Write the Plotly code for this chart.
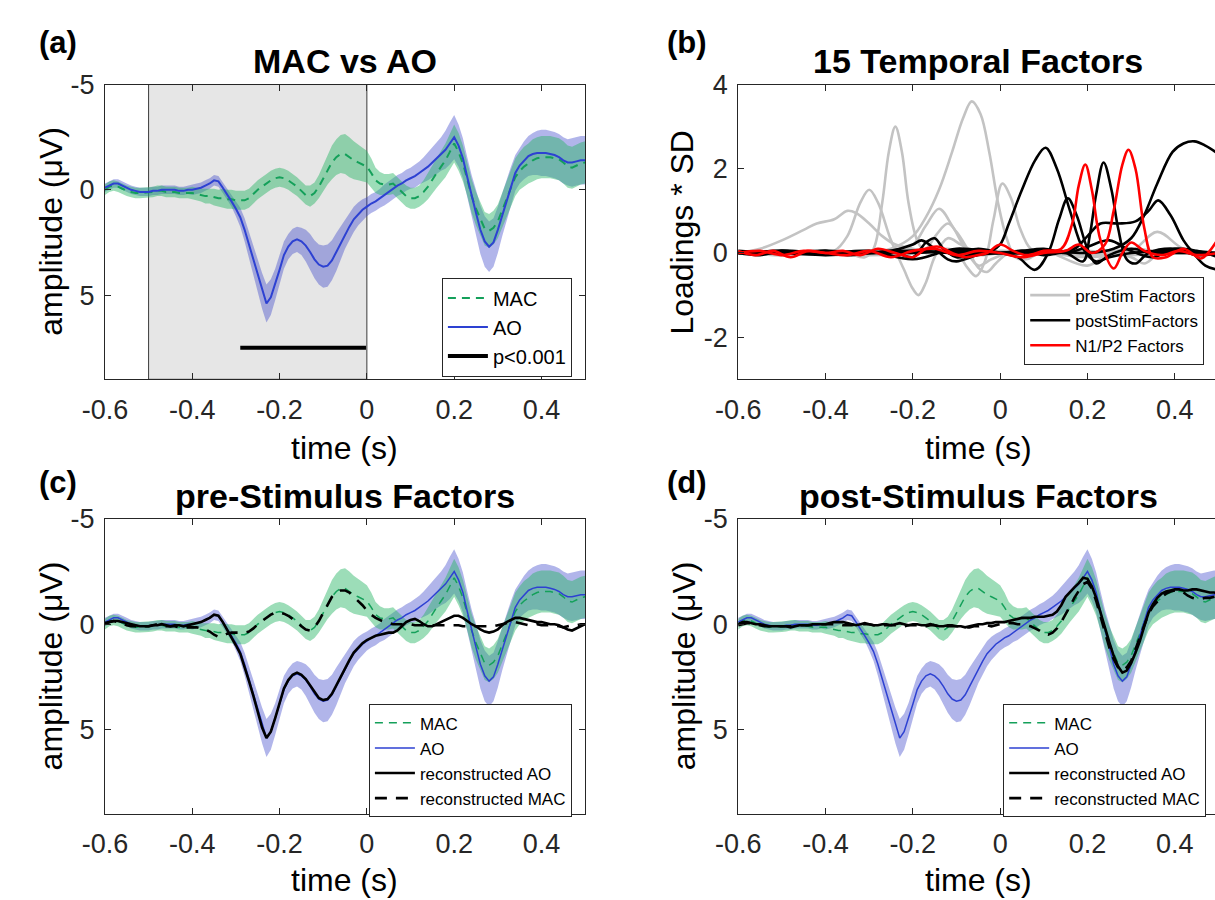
import numpy as np
import plotly.graph_objects as go

W, H = 1215, 900
FONT = "Liberation Sans, Arial, sans-serif"
TXT = "#262626"

# ---------------- data -----------------
t_start, t_step, n_t = -0.60, 0.01, 111
time = np.round(t_start + t_step * np.arange(n_t), 2)

AO = [-0.1,-0.2,-0.3,-0.3,-0.2,-0.1,0.0,0.05,0.1,0.1,
      0.1,0.05,0.05,0.0,0.0,0.0,0.0,0.05,0.05,0.0,
      0.0,-0.05,-0.1,-0.2,-0.3,-0.45,-0.4,-0.1,0.2,0.55,
      0.9,1.3,1.9,2.6,3.3,4.1,4.8,5.4,5.1,4.5,
      3.8,3.1,2.7,2.45,2.35,2.45,2.65,2.95,3.3,3.55,
      3.65,3.6,3.35,2.95,2.55,2.1,1.75,1.4,1.15,0.95,
      0.8,0.65,0.55,0.4,0.25,0.1,-0.05,-0.2,-0.3,-0.45,
      -0.55,-0.65,-0.8,-0.95,-1.1,-1.3,-1.5,-1.7,-1.9,-2.2,
      -2.5,-2.1,-1.5,-0.6,0.3,1.1,1.9,2.45,2.7,2.5,
      1.9,1.2,0.5,-0.2,-0.8,-1.15,-1.4,-1.6,-1.7,-1.75,
      -1.75,-1.75,-1.7,-1.65,-1.55,-1.4,-1.3,-1.3,-1.35,-1.4,-1.4]

AO_sd = [0.2]*20 + [0.25]*10 + \
    [0.35,0.45,0.55,0.65,0.75, 0.8,0.85,0.9,0.85,0.75,
     0.7,0.65,0.6,0.6,0.6, 0.65,0.75,0.85,0.9,0.95,
     1.0,1.0,0.95,0.9,0.8, 0.7,0.65,0.6,0.55,0.5,
     0.45,0.45,0.45,0.45,0.5,0.5,0.5,0.5,0.5,0.5,
     0.5,0.55,0.55,0.6,0.65,0.7,0.75,0.8,0.9,1.0,
     1.05,1.0,0.95,0.95,1.0,1.1,1.15,1.2,1.2,1.15,
     1.1,1.0,0.95,0.9,0.85,0.85,0.9,0.95,1.0,1.05,
     1.1,1.1,1.1,1.1,1.1,1.1,1.1,1.15,1.15,1.15,1.15]

MAC = [0.0,-0.15,-0.2,-0.15,-0.05,0.05,0.1,0.15,0.15,0.15,
       0.12,0.1,0.05,0.05,0.1,0.1,0.1,0.15,0.15,0.15,
       0.15,0.2,0.25,0.3,0.3,0.35,0.4,0.4,0.45,0.45,
       0.5,0.5,0.5,0.4,0.2,0.0,-0.15,-0.3,-0.45,-0.55,
       -0.6,-0.55,-0.45,-0.3,-0.15,0.05,0.25,0.3,0.15,-0.15,
       -0.55,-0.95,-1.3,-1.55,-1.7,-1.7,-1.55,-1.4,-1.3,-1.2,
       -1.1,-0.8,-0.45,-0.3,-0.25,-0.25,-0.3,-0.1,0.1,0.3,
       0.4,0.4,0.3,0.1,-0.15,-0.5,-0.8,-1.1,-1.4,-1.8,
       -2.2,-1.8,-1.25,-0.5,0.3,0.9,1.4,1.85,1.95,1.8,
       1.5,1.0,0.45,-0.1,-0.6,-0.9,-1.1,-1.25,-1.4,-1.5,
       -1.55,-1.55,-1.55,-1.5,-1.45,-1.3,-1.1,-1.05,-1.15,-1.25,-1.3]

MAC_sd = [0.25]*20 + \
    [0.3,0.3,0.3,0.35,0.35,0.4,0.4,0.45,0.45,0.45] + [0.45]*10 + \
    [0.45,0.45,0.45,0.45,0.45,0.45,0.45,0.5,0.5,0.55,
     0.6,0.7,0.8,0.85,0.9,0.95,0.95,0.9,0.85,0.8,
     0.75,0.7,0.6,0.55,0.5,0.5,0.5,0.5,0.5,0.5,
     0.5,0.5,0.5,0.55,0.6,0.65,0.7,0.75,0.8,0.85,
     0.9,0.9,0.85,0.8,0.8,0.8,0.8,0.8,0.8,0.8,
     0.8,0.8,0.85,0.85,0.9,0.9,0.95,0.95,1.0,1.0] + [1.0]*11

recAO_pre = [-0.05,-0.1,-0.15,-0.15,-0.1,-0.05,0.0,0.05,0.1,0.1,
             0.1,0.05,0.05,0.0,0.05,0.1,0.05,0.05,0.1,0.05,
             0.0,-0.05,-0.1,-0.2,-0.3,-0.45,-0.4,-0.1,0.25,0.6,
             1.0,1.4,2.0,2.7,3.4,4.2,4.9,5.4,5.1,4.45,
             3.75,3.05,2.65,2.4,2.3,2.4,2.6,2.9,3.25,3.5,
             3.6,3.55,3.3,2.9,2.5,2.05,1.7,1.35,1.1,0.9,
             0.75,0.65,0.55,0.5,0.45,0.4,0.4,0.3,0.1,-0.1,
             -0.2,-0.25,-0.15,0.0,0.1,0.1,0.0,-0.1,-0.2,-0.3,
             -0.4,-0.4,-0.3,-0.15,0.0,0.1,0.25,0.35,0.4,0.35,
             0.25,0.05,-0.1,-0.2,-0.3,-0.3,-0.25,-0.2,-0.15,-0.1,
             -0.1,-0.05,0.0,0.0,0.05,0.15,0.25,0.3,0.2,0.1,0.0]

recMAC_pre = [0.0,-0.1,-0.15,-0.1,-0.05,0.05,0.1,0.1,0.15,0.1,
              0.1,0.05,0.0,0.05,0.1,0.1,0.1,0.15,0.15,0.15,
              0.15,0.15,0.2,0.25,0.35,0.5,0.6,0.55,0.45,0.4,
              0.4,0.4,0.4,0.35,0.2,0.0,-0.15,-0.3,-0.45,-0.55,
              -0.55,-0.5,-0.4,-0.25,-0.1,0.1,0.25,0.3,0.15,-0.15,
              -0.55,-0.95,-1.3,-1.5,-1.6,-1.6,-1.5,-1.3,-1.1,-0.9,
              -0.65,-0.45,-0.3,-0.2,-0.1,-0.05,0.0,0.0,0.0,0.0,
              0.0,0.05,0.05,0.05,0.05,0.05,0.05,0.05,0.05,0.05,
              0.05,0.05,0.1,0.1,0.1,0.1,0.1,0.1,0.1,0.1,
              0.05,0.0,-0.05,-0.1,-0.1,-0.05,0.0,0.05,0.05,0.0,
              0.05,0.05,0.05,0.05,0.1,0.15,0.1,0.05,0.05,0.0,0.0]

recAO_post = [0.0,-0.1,-0.1,-0.05,0.0,0.0,0.05,0.1,0.1,0.1,
              0.1,0.1,0.15,0.1,0.05,0.05,0.05,0.0,0.0,0.0,
              0.0,-0.05,-0.1,-0.1,-0.1,-0.05,0.0,0.05,0.0,-0.05,
              0.0,0.05,0.05,0.0,0.0,0.05,0.0,-0.05,0.0,0.05,
              0.0,0.0,0.05,0.05,0.0,0.05,0.1,0.1,0.05,0.05,
              0.1,0.1,0.15,0.1,0.05,0.0,0.0,-0.05,-0.05,-0.1,
              -0.1,-0.1,-0.15,-0.2,-0.25,-0.3,-0.3,-0.3,-0.35,-0.35,
              -0.35,-0.4,-0.45,-0.6,-0.9,-1.3,-1.55,-1.75,-1.95,-2.2,
              -2.15,-1.8,-1.25,-0.6,0.15,0.85,1.5,2.0,2.3,2.2,
              1.85,1.35,0.8,0.1,-0.55,-0.95,-1.25,-1.45,-1.55,-1.6,
              -1.65,-1.65,-1.6,-1.6,-1.65,-1.65,-1.6,-1.55,-1.5,-1.5,-1.45]

recMAC_post = [0.05,0.0,-0.05,-0.05,0.0,0.05,0.1,0.1,0.1,0.1,
               0.1,0.1,0.1,0.05,0.05,0.05,0.05,0.05,0.0,0.0,
               0.0,0.0,0.0,0.0,0.05,0.05,0.05,0.0,0.0,0.0,
               0.0,0.05,0.05,0.05,0.05,0.05,0.05,0.1,0.1,0.05,
               0.05,0.05,0.1,0.1,0.05,0.05,0.1,0.1,0.1,0.1,
               0.1,0.1,0.15,0.15,0.1,0.1,0.05,0.05,0.1,0.05,
               0.0,-0.05,-0.05,-0.05,0.0,0.0,0.05,0.1,0.2,0.3,
               0.45,0.5,0.4,0.2,-0.1,-0.45,-0.85,-1.25,-1.6,-1.9,
               -2.0,-1.7,-1.1,-0.35,0.4,1.1,1.65,2.05,2.2,2.05,
               1.75,1.2,0.6,0.0,-0.5,-0.85,-1.1,-1.3,-1.45,-1.55,
               -1.6,-1.6,-1.5,-1.35,-1.25,-1.2,-1.2,-1.25,-1.25,-1.3,-1.35]

# significance bar (panel a)
sig_start, sig_end, sig_y = -0.29, -0.002, 7.5
# shaded pre-stimulus window (panel a)
win_start, win_end = -0.5, 0.0

# temporal factors (panel b): knots per factor
pre1_t = [-0.6,-0.5,-0.45,-0.4,-0.3,-0.25,-0.2,-0.17,-0.14,-0.11,-0.085,-0.065,-0.045,-0.025,-0.005,0.015,0.035,0.06,0.1,0.2,0.3,0.4,0.5]
pre1_v = [0.0,0.05,0.0,-0.05,0.0,0.1,0.4,0.85,1.5,2.4,3.2,3.6,3.3,2.4,1.2,0.35,-0.1,-0.15,0.05,0.0,0.05,0.0,0.0]
pre2_t = [-0.6,-0.5,-0.4,-0.35,-0.31,-0.29,-0.27,-0.255,-0.24,-0.225,-0.21,-0.19,-0.17,-0.15,-0.12,-0.08,-0.04,0.0,0.1,0.2,0.3,0.4,0.5]
pre2_v = [0.0,0.0,0.05,0.0,-0.1,0.1,1.2,2.4,3.0,2.4,1.2,0.3,0.0,0.05,0.1,0.0,-0.05,0.0,0.0,-0.1,0.0,0.0,0.0]
pre3_t = [-0.6,-0.5,-0.42,-0.38,-0.35,-0.32,-0.3,-0.28,-0.25,-0.22,-0.2,-0.187,-0.17,-0.15,-0.12,-0.09,-0.05,0.0,0.1,0.2,0.3,0.4,0.5]
pre3_v = [0.0,-0.05,0.0,0.05,0.4,1.2,1.5,1.2,0.3,-0.4,-0.85,-1.0,-0.7,-0.1,0.35,0.2,0.0,0.05,0.0,-0.05,0.0,0.05,0.0]
pre4_t = [-0.6,-0.55,-0.5,-0.45,-0.42,-0.38,-0.35,-0.33,-0.3,-0.27,-0.24,-0.2,-0.15,-0.1,-0.05,0.0,0.1,0.2,0.3,0.36,0.42,0.5]
pre4_v = [0.0,0.1,0.3,0.55,0.7,0.8,1.0,0.95,0.7,0.4,0.2,0.1,0.0,0.05,0.0,0.0,0.05,0.0,0.05,0.5,0.1,0.0]
pre5_t = [-0.6,-0.5,-0.4,-0.3,-0.25,-0.2,-0.17,-0.14,-0.11,-0.08,-0.05,-0.02,0.02,0.1,0.2,0.25,0.3,0.4,0.5]
pre5_v = [0.0,0.0,0.05,0.0,0.05,0.2,0.65,1.05,0.65,0.1,-0.3,-0.15,0.0,0.05,-0.3,0.0,0.1,0.0,0.0]
pre6_t = [-0.6,-0.5,-0.4,-0.3,-0.2,-0.15,-0.1,-0.075,-0.055,-0.035,-0.015,0.005,0.025,0.045,0.07,0.1,0.2,0.3,0.33,0.36,0.4,0.5]
pre6_v = [0.0,0.05,0.0,-0.05,0.0,0.1,0.0,-0.35,-0.55,-0.2,0.8,1.65,1.3,0.6,0.1,0.0,0.05,-0.1,-0.25,-0.05,0.05,0.0]
pre7_t = [-0.6,-0.5,-0.4,-0.3,-0.2,-0.17,-0.145,-0.12,-0.1,-0.075,-0.05,-0.03,-0.01,0.02,0.1,0.2,0.3,0.4,0.5]
pre7_v = [0.0,-0.05,0.0,0.05,0.0,0.1,0.45,0.7,0.5,0.1,-0.35,-0.45,-0.25,0.0,0.05,0.0,-0.05,0.0,0.0]

post1_t = [-0.6,-0.5,-0.4,-0.3,-0.25,-0.2,-0.17,-0.15,-0.13,-0.1,-0.05,-0.02,0.0,0.02,0.05,0.08,0.104,0.13,0.16,0.19,0.22,0.25,0.3,0.4,0.5]
post1_v = [0.0,0.0,0.05,0.0,0.05,-0.1,0.25,0.35,0.1,-0.1,0.0,0.05,0.2,0.7,1.5,2.2,2.5,2.0,1.0,0.1,-0.2,-0.1,0.0,0.05,0.0]
post2_t = [-0.6,-0.5,-0.4,-0.3,-0.2,-0.1,0.0,0.05,0.1,0.15,0.19,0.205,0.22,0.237,0.255,0.27,0.29,0.31,0.34,0.4,0.45,0.5]
post2_v = [0.05,0.0,0.0,0.05,-0.15,0.1,0.0,0.05,-0.05,0.0,-0.2,0.4,1.4,2.15,1.5,0.6,-0.15,-0.25,0.0,0.1,-0.05,0.0]
post3_t = [-0.6,-0.5,-0.4,-0.3,-0.2,-0.1,-0.05,0.0,0.04,0.08,0.11,0.135,0.155,0.175,0.2,0.22,0.25,0.3,0.35,0.4,0.5]
post3_v = [0.0,0.05,0.0,0.0,0.05,0.0,0.1,0.0,-0.1,-0.4,0.0,0.8,1.3,0.9,0.1,-0.25,-0.05,0.1,0.0,0.0,0.0]
post4_t = [-0.6,-0.5,-0.4,-0.3,-0.2,-0.1,0.0,0.1,0.17,0.2,0.23,0.27,0.31,0.34,0.362,0.39,0.42,0.44,0.47,0.5]
post4_v = [0.0,0.0,-0.05,0.0,0.0,0.05,0.0,0.0,0.1,0.4,0.7,0.7,0.75,1.0,1.25,0.9,0.3,0.03,-0.3,-0.4]
post5_t = [-0.6,-0.5,-0.4,-0.3,-0.2,-0.1,0.0,0.1,0.2,0.26,0.3,0.33,0.36,0.395,0.42,0.445,0.47,0.5]
post5_v = [0.0,0.05,0.0,0.0,0.05,0.0,0.0,0.05,0.0,0.1,0.35,0.9,1.65,2.4,2.6,2.65,2.55,2.35]
post6_t = [-0.6,-0.55,-0.5,-0.45,-0.4,-0.35,-0.3,-0.25,-0.2,-0.18,-0.15,-0.12,-0.1,-0.05,0.0,0.05,0.1,0.15,0.2,0.25,0.3,0.35,0.4,0.45,0.5]
post6_v = [0.0,-0.05,0.05,0.0,0.05,-0.05,0.0,0.05,0.2,0.3,0.1,-0.15,-0.2,-0.05,0.0,0.05,0.1,0.0,0.15,0.3,0.05,-0.1,0.1,0.05,-0.1]

n1_t = [-0.6,-0.56,-0.52,-0.48,-0.44,-0.4,-0.36,-0.32,-0.28,-0.24,-0.2,-0.17,-0.14,-0.11,-0.08,-0.05,-0.03,0.0,0.03,0.06,0.1,0.14,0.165,0.18,0.195,0.21,0.23,0.26,0.28,0.3,0.33,0.37,0.41,0.45,0.5]
n1_v = [0.05,-0.05,0.05,-0.1,0.05,0.0,0.05,-0.05,0.1,0.0,-0.1,0.1,0.15,0.0,-0.1,-0.05,0.0,0.2,0.05,-0.05,0.05,0.1,0.7,1.6,2.1,1.5,0.3,-0.37,0.0,0.25,0.05,-0.05,0.05,-0.05,0.0]
p2_t = [-0.6,-0.55,-0.5,-0.45,-0.4,-0.35,-0.3,-0.25,-0.2,-0.15,-0.1,-0.05,0.0,0.05,0.1,0.15,0.18,0.21,0.24,0.26,0.28,0.294,0.31,0.33,0.35,0.38,0.42,0.46,0.48,0.5]
p2_v = [0.0,0.05,-0.05,0.05,0.0,-0.05,0.05,-0.1,0.05,0.1,-0.05,0.05,0.0,-0.1,0.0,0.05,0.2,0.0,0.2,1.0,2.1,2.45,2.0,0.6,-0.1,-0.1,0.1,-0.13,0.05,0.35]

x_ticks = [-0.6, -0.4, -0.2, 0, 0.2, 0.4]
x_ticktext = ["-0.6", "-0.4", "-0.2", "0", "0.2", "0.4"]
amp_ticks = [-5, 0, 5]
load_ticks = [-2, 0, 2, 4]

for name, arr in [("AO", AO), ("AO_sd", AO_sd), ("MAC", MAC), ("MAC_sd", MAC_sd),
                  ("recAO_pre", recAO_pre), ("recMAC_pre", recMAC_pre),
                  ("recAO_post", recAO_post), ("recMAC_post", recMAC_post)]:
    assert len(arr) == n_t, (name, len(arr))

# ---------------- styling -----------------
AO_LINE = "rgb(45,65,210)"
AO_FILL = "rgba(50,60,200,0.38)"
MAC_LINE = "rgb(20,160,90)"
MAC_FILL = "rgba(40,180,100,0.46)"
GRAY = "rgb(195,195,195)"
RED = "rgb(255,0,0)"

def px(xp): return xp / W
def py(yp): return 1 - yp / H

X_PER_UNIT = 445.0
AC_X = [px(83.5), px(573)]
BD_X = [px(729), 1.0]
TOP_Y = [py(370.5), py(70.7)]
BOT_Y = [py(812.5), py(512.3)]
BD_XMAX = -0.6 + (W - 729) / X_PER_UNIT

fig = go.Figure()

def band(mean, sd, fill, xa, ya):
    m = np.array(mean); s = np.array(sd)
    fig.add_trace(go.Scatter(
        x=np.concatenate([time, time[::-1]]),
        y=np.concatenate([m + s, (m - s)[::-1]]),
        fill="toself", fillcolor=fill, line=dict(width=0),
        mode="lines", hoverinfo="skip", showlegend=False, xaxis=xa, yaxis=ya))

def erp_panel(xa, ya, leg, lw):
    band(AO, AO_sd, AO_FILL, xa, ya)
    band(MAC, MAC_sd, MAC_FILL, xa, ya)
    fig.add_trace(go.Scatter(x=time, y=MAC, mode="lines", name="MAC",
                             line=dict(color=MAC_LINE, width=lw, dash="8px,6px"),
                             xaxis=xa, yaxis=ya, legend=leg))
    fig.add_trace(go.Scatter(x=time, y=AO, mode="lines", name="AO",
                             line=dict(color=AO_LINE, width=lw),
                             xaxis=xa, yaxis=ya, legend=leg))

# panel (a)
erp_panel("x", "y", "legend", 2)
fig.add_trace(go.Scatter(x=[sig_start, sig_end], y=[sig_y, sig_y], mode="lines",
                         name="p<0.001", line=dict(color="black", width=4),
                         xaxis="x", yaxis="y", legend="legend"))

# panel (b)
pre_factors = [(pre1_t, pre1_v), (pre2_t, pre2_v), (pre3_t, pre3_v), (pre4_t, pre4_v),
               (pre5_t, pre5_v), (pre6_t, pre6_v), (pre7_t, pre7_v)]
post_factors = [(post1_t, post1_v), (post2_t, post2_v), (post3_t, post3_v),
                (post4_t, post4_v), (post5_t, post5_v), (post6_t, post6_v)]
np_factors = [(n1_t, n1_v), (p2_t, p2_v)]
for group, col, label in [(pre_factors, GRAY, "preStim Factors"),
                          (post_factors, "black", "postStimFactors"),
                          (np_factors, RED, "N1/P2 Factors")]:
    for i, (ft, fv) in enumerate(group):
        fig.add_trace(go.Scatter(x=ft, y=fv, mode="lines", name=label,
                                 line=dict(color=col, width=2.6, shape="spline", smoothing=1.0),
                                 showlegend=(i == 0), legendgroup=label,
                                 xaxis="x2", yaxis="y2", legend="legend2"))

# panel (c)
erp_panel("x3", "y3", "legend3", 1.5)
fig.add_trace(go.Scatter(x=time, y=recAO_pre, mode="lines", name="reconstructed AO",
                         line=dict(color="black", width=2.6), xaxis="x3", yaxis="y3", legend="legend3"))
fig.add_trace(go.Scatter(x=time, y=recMAC_pre, mode="lines", name="reconstructed MAC",
                         line=dict(color="black", width=2.6, dash="12px,9px"),
                         xaxis="x3", yaxis="y3", legend="legend3"))

# panel (d)
erp_panel("x4", "y4", "legend4", 1.5)
fig.add_trace(go.Scatter(x=time, y=recAO_post, mode="lines", name="reconstructed AO",
                         line=dict(color="black", width=2.6), xaxis="x4", yaxis="y4", legend="legend4"))
fig.add_trace(go.Scatter(x=time, y=recMAC_post, mode="lines", name="reconstructed MAC",
                         line=dict(color="black", width=2.6, dash="12px,9px"),
                         xaxis="x4", yaxis="y4", legend="legend4"))

# shaded window in (a)
fig.add_shape(type="rect", xref="x", yref="y", x0=win_start, x1=win_end, y0=9, y1=-5,
              fillcolor="#e6e6e6", line=dict(color="#3a3a3a", width=1), layer="below")

def xaxis(domain, anchor, rng):
    return dict(domain=domain, anchor=anchor, range=rng, tickvals=x_ticks, ticktext=x_ticktext,
                ticks="inside", ticklen=6, tickcolor=TXT, showline=True, linecolor=TXT,
                linewidth=1, mirror="ticks", showgrid=False, zeroline=False,
                tickfont=dict(family=FONT, size=27, color=TXT), ticklabelstandoff=6)

def yaxis(domain, anchor, rng, tv, mirror=True):
    return dict(domain=domain, anchor=anchor, range=rng, tickvals=tv,
                ticktext=[str(v) for v in tv],
                ticks="inside", ticklen=6, tickcolor=TXT, showline=True, linecolor=TXT,
                linewidth=1, mirror="ticks" if mirror else False, showgrid=False, zeroline=False,
                tickfont=dict(family=FONT, size=27, color=TXT), ticklabelstandoff=4)

def legend(xr, yt, size):
    return dict(x=px(xr), xanchor="right", y=py(yt), yanchor="top",
                bgcolor="white", bordercolor=TXT, borderwidth=1,
                font=dict(family=FONT, size=size, color="black"),
                tracegroupgap=0, itemwidth=40)

annotations = []
def ann(text, x, y, size, bold=False, angle=0, xanchor="center"):
    annotations.append(dict(text=("<b>%s</b>" % text) if bold else text,
                            x=px(x), y=py(y), xref="paper", yref="paper",
                            xanchor=xanchor, yanchor="middle", showarrow=False,
                            textangle=angle,
                            font=dict(family=FONT, size=size, color="black")))

ann("(a)", 14, 28, 31, True, xanchor="left")
ann("(b)", 654, 28, 31, True, xanchor="left")
ann("(c)", 14, 475, 31, True, xanchor="left")
ann("(d)", 654, 475, 31, True, xanchor="left")
ann("MAC vs AO", 328, 47, 34, True)
ann("15 Temporal Factors", 973.5, 47, 34, True)
ann("pre-Stimulus Factors", 328, 489, 34, True)
ann("post-Stimulus Factors", 973.5, 489, 34, True)
ann("amplitude (μV)", 29, 220, 32, angle=-90)
ann("Loadings * SD", 672, 221, 32, angle=-90)
ann("amplitude (μV)", 29, 662, 32, angle=-90)
ann("amplitude (μV)", 674, 662, 32, angle=-90)
ann("time (s)", 328, 440, 32)
ann("time (s)", 973.5, 440, 32)
ann("time (s)", 328, 880, 32)
ann("time (s)", 973.5, 880, 32)

fig.update_layout(
    width=W, height=H, margin=dict(l=0, r=0, t=0, b=0),
    paper_bgcolor="white", plot_bgcolor="white",
    font=dict(family=FONT, color=TXT),
    xaxis=xaxis(AC_X, "y", [-0.6, 0.5]),
    yaxis=yaxis(TOP_Y, "x", [9, -5], amp_ticks),
    xaxis2=xaxis(BD_X, "y2", [-0.6, BD_XMAX]),
    yaxis2=yaxis(TOP_Y, "x2", [-3, 4], load_ticks, mirror=False),
    xaxis3=xaxis(AC_X, "y3", [-0.6, 0.5]),
    yaxis3=yaxis(BOT_Y, "x3", [9, -5], amp_ticks),
    xaxis4=xaxis(BD_X, "y4", [-0.6, BD_XMAX]),
    yaxis4=yaxis(BOT_Y, "x4", [9, -5], amp_ticks, mirror=False),
    legend=legend(559.5, 267, 20),
    legend2=legend(1204, 266, 17),
    legend3=legend(559.5, 701, 17),
    legend4=legend(1206, 701, 17),
    annotations=annotations,
    showlegend=True,
)

fig.write_html("out.html")
